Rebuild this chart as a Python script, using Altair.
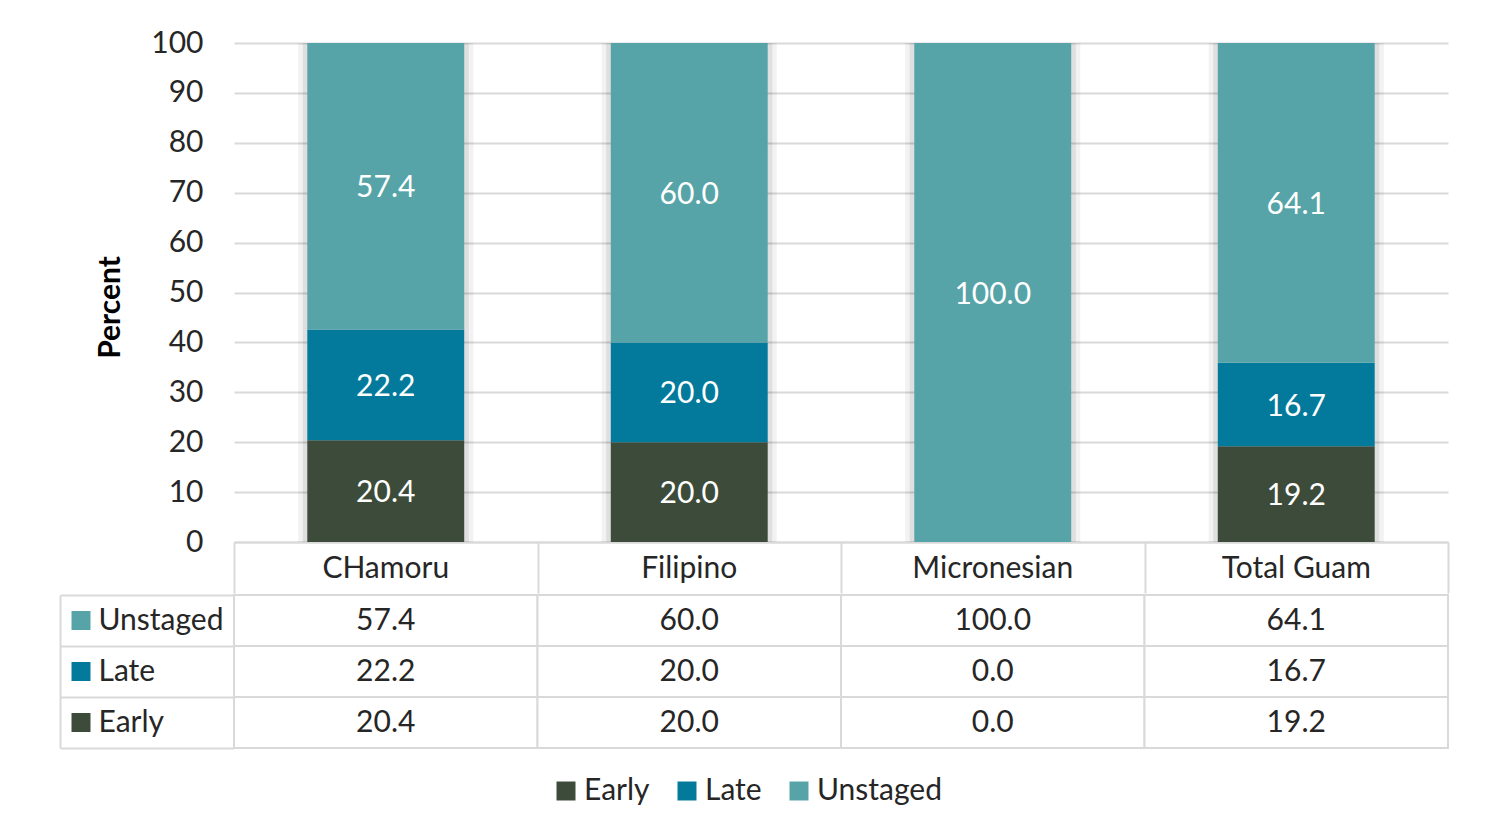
import altair as alt
import pandas as pd

categories = ["CHamoru", "Filipino", "Micronesian", "Total Guam"]
stages = ["Early", "Late", "Unstaged"]
early = [20.4, 20.0, 0.0, 19.2]
late = [22.2, 20.0, 0.0, 16.7]
unstaged = [57.4, 60.0, 100.0, 64.1]
stage_colors = ["#3D4C3A", "#037A9C", "#56A4A8"]
table_rows = ["Unstaged", "Late", "Early"]
y_ticks = list(range(0, 101, 10))

records = []
for i, c in enumerate(categories):
    for k, (s, vals) in enumerate(zip(stages, [early, late, unstaged])):
        records.append({"category": c, "stage": s, "value": vals[i], "order": k})
df = pd.DataFrame(records)

FONT = "Lato"
GRID = "#D9D9D9"
TXT = "#262626"
FS = 30
PLOT_W = 1214
PLOT_H = 499
ROW_H = 51
LABEL_COL_W = 174
BAR_BAND = 0.517

xscale = alt.Scale(domain=categories, paddingInner=0, paddingOuter=0)
cscale = alt.Scale(domain=stages, range=stage_colors)
rowscale = alt.Scale(domain=table_rows, paddingInner=0, paddingOuter=0)
yscale = alt.Scale(domain=[0, 100], nice=False)

# header row borders (ticks at band edges)
xaxis_lines = alt.Axis(orient="bottom", title=None, domain=True, domainColor=GRID,
                       domainWidth=2, ticks=True, tickBand="extent", tickSize=ROW_H,
                       tickColor=GRID, tickWidth=2, labels=False, grid=False)
# header row category names
xaxis_labels = alt.Axis(orient="bottom", title=None, domain=False, ticks=False,
                        tickSize=0, labelFont=FONT, labelFontSize=FS, labelColor=TXT,
                        labelPadding=26, labelBaseline="middle", labelAngle=0,
                        grid=False)
yaxis = alt.Axis(values=y_ticks, title="Percent", titleFont=FONT,
                 titleFontSize=FS, titleFontWeight="bold", titleColor="#000000",
                 titlePadding=25, titleY=264, labelFont=FONT, labelFontSize=FS,
                 labelColor=TXT, labelPadding=31, ticks=False,
                 domain=False, grid=True, gridColor=GRID, gridWidth=2)

base = alt.Chart(df)

shadow_base = base.transform_aggregate(total="sum(value)", groupby=["category"])
shadow_outer = shadow_base.mark_bar(
    width=alt.RelativeBandSize(BAR_BAND + 0.06), color="#000000", opacity=0.05
).encode(
    x=alt.X("category:N", scale=xscale, sort=categories, axis=xaxis_lines),
    y=alt.Y("total:Q", scale=yscale, axis=yaxis),
)
shadow_inner = shadow_base.mark_bar(
    width=alt.RelativeBandSize(BAR_BAND + 0.03), color="#000000", opacity=0.08
).encode(
    x=alt.X("category:N", scale=xscale, sort=categories, axis=None),
    y=alt.Y("total:Q", scale=yscale, axis=yaxis),
)

bars = base.mark_bar(width=alt.RelativeBandSize(BAR_BAND)).encode(
    x=alt.X("category:N", scale=xscale, sort=categories, axis=xaxis_labels),
    y=alt.Y("value:Q", stack="zero", scale=yscale, axis=yaxis),
    color=alt.Color("stage:N", scale=cscale,
                    legend=alt.Legend(title=None, orient="none", direction="horizontal",
                                      legendX=317, legendY=733,
                                      symbolType="square", symbolSize=361,
                                      symbolStrokeWidth=0, labelFont=FONT,
                                      labelFontSize=FS, labelColor=TXT, labelOffset=3,
                                      columnPadding=22)),
    order=alt.Order("order:Q"),
)

bar_labels = base.transform_filter("datum.value > 0").transform_stack(
    stack="value", as_=["y0", "y1"], groupby=["category"],
    sort=[alt.SortField("order")]
).transform_calculate(mid="(datum.y0 + datum.y1) / 2").mark_text(
    font=FONT, fontSize=FS, color="white", baseline="middle", dy=2
).encode(
    x=alt.X("category:N", scale=xscale, sort=categories, axis=None),
    y=alt.Y("mid:Q", scale=yscale, axis=yaxis),
    text=alt.Text("value:Q", format=".1f"),
)

top = alt.layer(shadow_outer, shadow_inner, bars, bar_labels).resolve_axis(
    x="independent"
).properties(width=PLOT_W, height=PLOT_H)

# table cells + horizontal borders of the row-label column
cells = base.mark_rect(fill="white", stroke=GRID, strokeWidth=2).encode(
    x=alt.X("category:N", scale=xscale, sort=categories, axis=None),
    y=alt.Y("stage:N", scale=rowscale, sort=table_rows,
            axis=alt.Axis(orient="left", title=None, domain=False, ticks=True,
                          tickBand="extent", tickSize=LABEL_COL_W, tickColor=GRID,
                          tickWidth=2, labels=False)),
)

# table values + colour keys of the row-label column
cell_text = base.mark_text(font=FONT, fontSize=FS, color=TXT, baseline="middle").encode(
    x=alt.X("category:N", scale=xscale, sort=categories, axis=None),
    y=alt.Y("stage:N", scale=rowscale, sort=table_rows,
            axis=alt.Axis(orient="left", title=None, domain=False, labels=False,
                          ticks=True, tickSize=19, tickWidth=19, tickCap="butt",
                          offset=144,
                          tickColor={"condition": [
                              {"test": "datum.value === 'Unstaged'", "value": stage_colors[2]},
                              {"test": "datum.value === 'Late'", "value": stage_colors[1]},
                          ], "value": stage_colors[0]})),
    text=alt.Text("value:Q", format=".1f"),
)

# row-label names
row_names = base.mark_text(opacity=0).encode(
    y=alt.Y("stage:N", scale=rowscale, sort=table_rows,
            axis=alt.Axis(orient="left", title=None, domain=False, ticks=False,
                          tickSize=0, labelAlign="left", labelPadding=136,
                          labelFont=FONT, labelFontSize=FS, labelColor=TXT,
                          labelBaseline="middle")),
)

# outer left border of the row-label column
frame = base.mark_text(opacity=0).encode(
    y=alt.Y("stage:N", scale=rowscale, sort=table_rows,
            axis=alt.Axis(orient="left", title=None, domain=True, domainColor=GRID,
                          domainWidth=2, ticks=False, labels=False,
                          offset=LABEL_COL_W)),
)

table = alt.layer(cells, cell_text, row_names, frame).resolve_axis(
    y="independent"
).properties(width=PLOT_W, height=3 * ROW_H)

chart = alt.vconcat(top, table, spacing=0).properties(
    padding={"left": 51, "top": 20, "right": 20, "bottom": 10},
    background="white",
).configure_view(stroke=None)

chart.save("out.html", embed_options={"renderer": "svg", "actions": False})
